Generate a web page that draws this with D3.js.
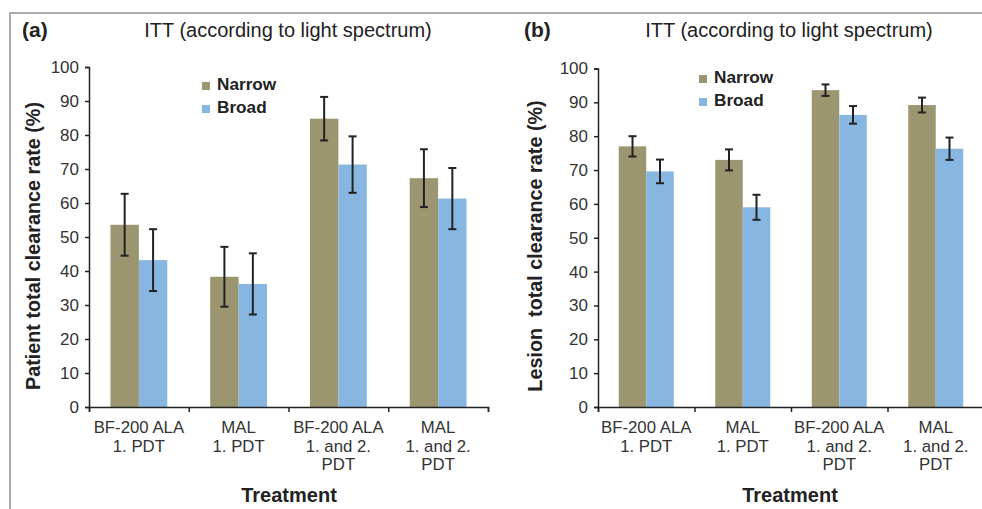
<!DOCTYPE html>
<html>
<head>
<meta charset="utf-8">
<script src="https://cdn.jsdelivr.net/npm/d3@7"></script>
<style>
  body { margin: 0; background: #fff; }
  svg { display: block; font-family: "Liberation Sans", Arial, sans-serif; }
</style>
</head>
<body>
<div id="graph"></div>
<script>
// data
var categories = [
  ["BF-200 ALA", "1. PDT"],
  ["MAL", "1. PDT"],
  ["BF-200 ALA", "1. and 2.", "PDT"],
  ["MAL", "1. and 2.", "PDT"]
];
var seriesNames = ["Narrow", "Broad"];
var yTicks = [0, 10, 20, 30, 40, 50, 60, 70, 80, 90, 100];

// panel a: patient total clearance rate
var patientNarrow = [53.6, 38.3, 84.8, 67.3];
var patientNarrowErr = [9.1, 8.8, 6.4, 8.5];
var patientBroad = [43.2, 36.2, 71.3, 61.3];
var patientBroadErr = [9.1, 9.0, 8.3, 9.0];

// panel b: lesion total clearance rate
var lesionNarrow = [77.0, 73.0, 93.6, 89.2];
var lesionNarrowErr = [3.0, 3.1, 1.7, 2.2];
var lesionBroad = [69.6, 59.0, 86.3, 76.3];
var lesionBroadErr = [3.5, 3.7, 2.6, 3.3];

var colors = ["#9c9670", "#87b7e1"];

var width = 982, height = 509;
var svg = d3.select("#graph").append("svg")
  .attr("width", width)
  .attr("height", height);

// gray frame
svg.append("path")
  .attr("d", "M10," + height + "V13H" + width)
  .attr("fill", "none")
  .attr("stroke", "#aaa")
  .attr("stroke-width", 2);

function drawPanel(p) {
  var g = svg.append("g");
  var x = d3.scaleBand().domain(d3.range(categories.length)).range([p.x0, p.x1]).paddingInner(0).paddingOuter(0);
  var y = d3.scaleLinear().domain([0, 100]).range([p.y0, p.y1]);
  var bw = x.bandwidth();
  var barW = bw * 0.285;

  // bars
  var series = [p.narrow, p.broad];
  var errs = [p.narrowErr, p.broadErr];
  series.forEach(function(vals, s) {
    g.selectAll(".bar" + s)
      .data(vals)
      .enter()
      .append("rect")
      .attr("x", function(d, i) { return x(i) + bw / 2 - barW + s * barW; })
      .attr("y", function(d) { return y(d); })
      .attr("width", barW)
      .attr("height", function(d) { return y(0) - y(d); })
      .attr("fill", colors[s]);
  });

  // error bars
  series.forEach(function(vals, s) {
    vals.forEach(function(v, i) {
      var cx = x(i) + bw / 2 - barW / 2 + s * barW;
      var e = errs[s][i];
      var eg = g.append("g").attr("stroke", "#222").attr("stroke-width", 2);
      eg.append("line").attr("x1", cx).attr("x2", cx).attr("y1", y(v + e)).attr("y2", y(v - e));
      eg.append("line").attr("x1", cx - 4).attr("x2", cx + 4).attr("y1", y(v + e)).attr("y2", y(v + e));
      eg.append("line").attr("x1", cx - 4).attr("x2", cx + 4).attr("y1", y(v - e)).attr("y2", y(v - e));
    });
  });

  // y axis
  var yAxis = g.append("g")
    .attr("transform", "translate(" + p.x0 + ",0)")
    .call(d3.axisLeft(y).tickValues(yTicks).tickSize(4).tickPadding(6));
  yAxis.select(".domain").attr("stroke", "#222").attr("stroke-width", 1.5);
  yAxis.selectAll(".tick line").attr("stroke", "#222").attr("stroke-width", 1.5);
  yAxis.selectAll("text").attr("font-size", "17px").attr("fill", "#333")
    .attr("font-family", "Liberation Sans, Arial, sans-serif");

  // x axis
  var xl = d3.scaleLinear().domain([0, categories.length]).range([p.x0, p.x1]);
  var xAxis = g.append("g")
    .attr("transform", "translate(0," + p.y0 + ")")
    .call(d3.axisBottom(xl).tickValues(d3.range(categories.length + 1)).tickSize(5).tickFormat(""));
  xAxis.select(".domain").attr("stroke", "#222").attr("stroke-width", 1.5);
  xAxis.selectAll(".tick line").attr("stroke", "#222").attr("stroke-width", 1.5);

  // category labels
  categories.forEach(function(lines, i) {
    var t = g.append("text")
      .attr("x", x(i) + bw / 2)
      .attr("y", p.y0 + 26)
      .attr("text-anchor", "middle")
      .attr("font-size", "16.8px")
      .attr("fill", "#333");
    lines.forEach(function(l, k) {
      t.append("tspan").attr("x", x(i) + bw / 2).attr("dy", k === 0 ? 0 : 18.5).text(l);
    });
  });

  // axis titles
  g.append("text")
    .attr("x", p.xLabelX)
    .attr("y", p.y0 + 95)
    .attr("text-anchor", "middle")
    .attr("font-size", "20px")
    .attr("font-weight", "bold")
    .attr("fill", "#222")
    .text("Treatment");

  g.append("text")
    .attr("transform", "translate(" + p.yLabelX + ",246) rotate(-90)")
    .attr("text-anchor", "middle")
    .attr("font-size", "19.8px")
    .attr("font-weight", "bold")
    .attr("fill", "#222")
    .attr("xml:space", "preserve")
    .text(p.yLabel);

  // titles
  g.append("text")
    .attr("x", p.titleX)
    .attr("y", 37)
    .attr("text-anchor", "middle")
    .attr("font-size", "20px")
    .attr("fill", "#222")
    .text("ITT (according to light spectrum)");
  g.append("text")
    .attr("x", p.tagX)
    .attr("y", 37)
    .attr("font-size", "21px")
    .attr("font-weight", "bold")
    .attr("fill", "#222")
    .text(p.tag);

  // legend
  seriesNames.forEach(function(n, s) {
    g.append("rect")
      .attr("x", p.legX)
      .attr("y", p.legY + s * 23 - 8)
      .attr("width", 8)
      .attr("height", 8)
      .attr("fill", colors[s]);
    g.append("text")
      .attr("x", p.legX + 15)
      .attr("y", p.legY + s * 23)
      .attr("font-size", "17.2px")
      .attr("font-weight", "bold")
      .attr("fill", "#222")
      .text(n);
  });
}

drawPanel({
  x0: 89, x1: 488, y0: 407, y1: 67,
  narrow: patientNarrow, narrowErr: patientNarrowErr,
  broad: patientBroad, broadErr: patientBroadErr,
  yLabel: "Patient total clearance rate (%)", yLabelX: 40,
  xLabelX: 289,
  titleX: 288, tagX: 22, tag: "(a)",
  legX: 202, legY: 90
});

drawPanel({
  x0: 598, x1: 984, y0: 407, y1: 68.5,
  narrow: lesionNarrow, narrowErr: lesionNarrowErr,
  broad: lesionBroad, broadErr: lesionBroadErr,
  yLabel: "Lesion  total clearance rate (%)", yLabelX: 542,
  xLabelX: 790,
  titleX: 789, tagX: 524, tag: "(b)",
  legX: 699, legY: 83
});
</script>
</body>
</html>
